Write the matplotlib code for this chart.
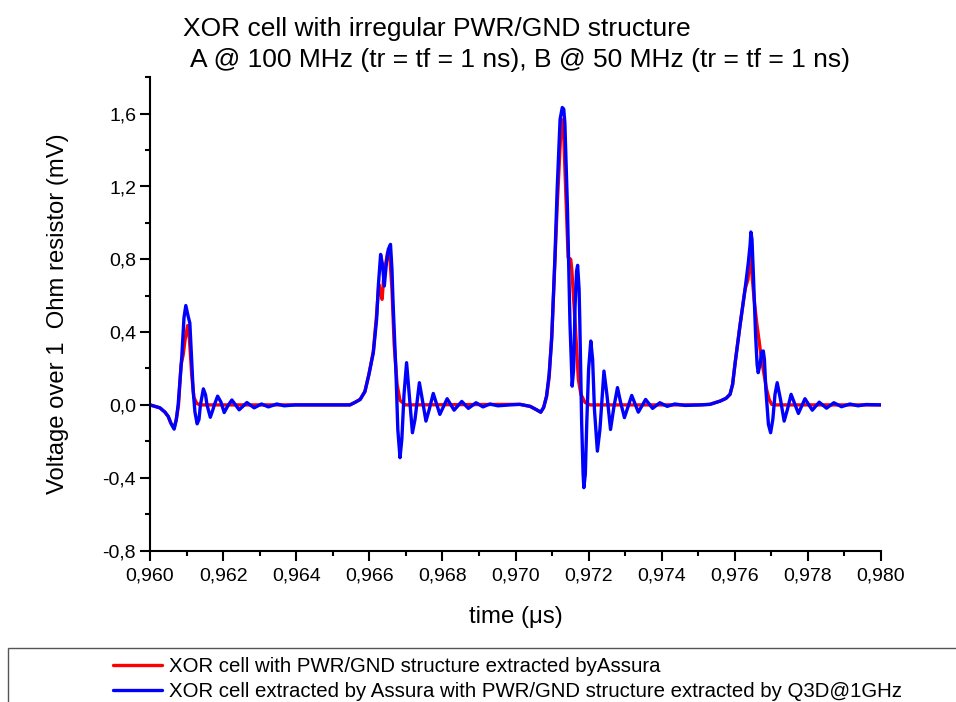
import matplotlib
matplotlib.use("Agg")
import matplotlib.pyplot as plt
from matplotlib.ticker import MultipleLocator, FuncFormatter
from matplotlib.patches import Rectangle

plt.rcParams["font.family"] = ["Liberation Sans", "DejaVu Sans"]
plt.rcParams["axes.unicode_minus"] = False

# Time (us) and voltage (mV) samples, PWR/GND structure extracted by Assura
t_assura = [
    0.96000, 0.96027, 0.96041, 0.96050, 0.96057, 0.96066, 0.96072, 0.96078,
    0.96085, 0.96091, 0.96096, 0.96103, 0.96108, 0.96114, 0.96120, 0.96128,
    0.96137, 0.96547,
    0.96561, 0.96575, 0.96588, 0.96599, 0.96611, 0.96620, 0.96626, 0.96629,
    0.96635, 0.96640, 0.96650, 0.96657, 0.96662, 0.96668, 0.96676, 0.96684,
    0.96698, 0.97012,
    0.97040, 0.97056, 0.97069, 0.97077, 0.97085, 0.97092, 0.97100, 0.97108,
    0.97114, 0.97123, 0.97129, 0.97132, 0.97135, 0.97144, 0.97151, 0.97154,
    0.97163, 0.97172, 0.97179, 0.97190, 0.97204, 0.97505,
    0.97532, 0.97560, 0.97576, 0.97587, 0.97594, 0.97601, 0.97614, 0.97628,
    0.97636, 0.97642, 0.97647, 0.97653, 0.97660, 0.97666, 0.97673, 0.97680,
    0.97687, 0.97694, 0.97701, 0.97710, 0.98000,
]
v_assura = [
    0.000, -0.016, -0.040, -0.064, -0.100, -0.128, -0.080, 0.000,
    0.220, 0.278, 0.360, 0.436, 0.360, 0.168, 0.041, 0.008,
    0.000, 0.000,
    0.014, 0.030, 0.074, 0.168, 0.294, 0.497, 0.662, 0.635,
    0.580, 0.718, 0.838, 0.789, 0.635, 0.333, 0.113, 0.025,
    0.000, 0.003,
    -0.008, -0.025, -0.040, -0.014, 0.047, 0.150, 0.410, 0.797,
    1.090, 1.460, 1.567, 1.485, 1.310, 0.810, 0.800, 0.745,
    0.454, 0.140, 0.058, 0.014, 0.000, 0.000,
    0.003, 0.021, 0.036, 0.058, 0.113, 0.232, 0.433, 0.635,
    0.690, 0.834, 0.715, 0.577, 0.449, 0.360, 0.250, 0.168,
    0.085, 0.030, 0.003, 0.000, 0.000,
]

# Time (us) and voltage (mV) samples, PWR/GND structure extracted by Q3D@1GHz
t_q3d = [
    0.96000, 0.96027, 0.96041, 0.96050, 0.96057, 0.96066, 0.96072, 0.96077,
    0.96087, 0.96093, 0.96098, 0.96104, 0.96109, 0.96114, 0.96118, 0.96123,
    0.96129, 0.96134, 0.96138, 0.96146, 0.96152, 0.96156, 0.96165, 0.96172,
    0.96176, 0.96185, 0.96194, 0.96203, 0.96213, 0.96224, 0.96244, 0.96265,
    0.96285, 0.96305, 0.96324, 0.96347, 0.96367, 0.96397, 0.96547,
    0.96561, 0.96575, 0.96588, 0.96599, 0.96611, 0.96620, 0.96625, 0.96631,
    0.96636, 0.96641, 0.96647, 0.96652, 0.96658, 0.96662, 0.96665, 0.96673,
    0.96678, 0.96684, 0.96689, 0.96695, 0.96702, 0.96708, 0.96718, 0.96725,
    0.96737, 0.96745, 0.96755, 0.96764, 0.96775, 0.96793, 0.96813, 0.96832,
    0.96853, 0.96871, 0.96892, 0.96911, 0.96930, 0.96952, 0.96985, 0.97012,
    0.97040, 0.97056, 0.97069, 0.97077, 0.97085, 0.97092, 0.97099, 0.97108,
    0.97114, 0.97122, 0.97128, 0.97132, 0.97135, 0.97142, 0.97149, 0.97155,
    0.97159, 0.97163, 0.97167, 0.97170, 0.97174, 0.97176, 0.97181, 0.97185,
    0.97187, 0.97191, 0.97195, 0.97200, 0.97206, 0.97211, 0.97216, 0.97224,
    0.97231, 0.97242, 0.97250, 0.97260, 0.97269, 0.97279, 0.97287, 0.97298,
    0.97318, 0.97336, 0.97356, 0.97375, 0.97395, 0.97415, 0.97436, 0.97464,
    0.97505,
    0.97532, 0.97560, 0.97576, 0.97587, 0.97594, 0.97601, 0.97614, 0.97628,
    0.97637, 0.97642, 0.97644, 0.97647, 0.97651, 0.97657, 0.97661, 0.97664,
    0.97669, 0.97674, 0.97678, 0.97681, 0.97685, 0.97692, 0.97698, 0.97704,
    0.97710, 0.97716, 0.97725, 0.97735, 0.97744, 0.97754, 0.97774, 0.97792,
    0.97812, 0.97831, 0.97851, 0.97871, 0.97892, 0.97915, 0.97937, 0.97959,
    0.98000,
]
v_q3d = [
    0.000, -0.016, -0.040, -0.064, -0.100, -0.133, -0.080, 0.000,
    0.265, 0.480, 0.546, 0.490, 0.450, 0.250, 0.082, -0.040,
    -0.104, -0.080, 0.000, 0.088, 0.055, 0.000, -0.068, -0.027,
    0.000, 0.048, 0.016, -0.042, -0.005, 0.027, -0.027, 0.013,
    -0.016, 0.005, -0.011, 0.005, -0.005, 0.000, 0.000,
    0.014, 0.030, 0.073, 0.168, 0.287, 0.470, 0.662, 0.827,
    0.772, 0.653, 0.782, 0.855, 0.882, 0.745, 0.562, 0.177,
    -0.135, -0.290, -0.190, 0.058, 0.232, 0.085, -0.153, -0.080,
    0.122, 0.030, -0.089, -0.025, 0.063, -0.052, 0.034, -0.029,
    0.019, -0.019, 0.012, -0.011, 0.005, -0.005, 0.000, 0.003,
    -0.008, -0.025, -0.040, -0.014, 0.048, 0.168, 0.360, 0.818,
    1.185, 1.570, 1.634, 1.625, 1.551, 1.093, 0.452, 0.103,
    0.195, 0.543, 0.734, 0.767, 0.635, 0.452, -0.098, -0.382,
    -0.455, -0.382, -0.098, 0.195, 0.351, 0.250, -0.025, -0.254,
    -0.135, 0.186, 0.058, -0.135, -0.014, 0.095, 0.019, -0.070,
    0.052, -0.040, 0.030, -0.019, 0.012, -0.008, 0.005, -0.003,
    0.000,
    0.003, 0.021, 0.036, 0.058, 0.113, 0.232, 0.433, 0.635,
    0.782, 0.882, 0.950, 0.910, 0.708, 0.378, 0.223, 0.177,
    0.223, 0.294, 0.296, 0.250, 0.085, -0.107, -0.153, -0.080,
    0.058, 0.122, 0.030, -0.089, -0.025, 0.058, -0.047, 0.034,
    -0.029, 0.015, -0.018, 0.012, -0.010, 0.005, -0.005, 0.002,
    0.000,
]

label_assura = "XOR cell with PWR/GND structure extracted byAssura"
label_q3d = "XOR cell extracted by Assura with PWR/GND structure extracted by Q3D@1GHz"
title_1 = "XOR cell with irregular PWR/GND structure"
title_2 = "A @ 100 MHz (tr = tf = 1 ns), B @ 50 MHz (tr = tf = 1 ns)"

W, H = 956, 702
fig = plt.figure(figsize=(W / 100, H / 100), dpi=100)
ax = fig.add_axes([150 / W, 1 - 550.5 / H, 731 / W, 473.2 / H])

line_a, = ax.plot(t_assura, v_assura, color="#ff0000", lw=2.4,
                  solid_joinstyle="round", solid_capstyle="round")
line_q, = ax.plot(t_q3d, v_q3d, color="#0000ff", lw=2.4,
                  solid_joinstyle="round", solid_capstyle="round")

ax.set_xlim(0.960, 0.980)
ax.set_ylim(-0.8, 1.8)

ax.xaxis.set_major_locator(MultipleLocator(0.002))
ax.xaxis.set_minor_locator(MultipleLocator(0.001))
ax.yaxis.set_major_locator(MultipleLocator(0.4))
ax.yaxis.set_minor_locator(MultipleLocator(0.2))


def comma_fmt(decimals):
    def fmt(v, pos):
        s = f"{v:.{decimals}f}"
        if s.startswith("-") and float(s) == 0:
            s = s[1:]
        return s.replace(".", ",")
    return FuncFormatter(fmt)


ax.xaxis.set_major_formatter(comma_fmt(3))
ax.yaxis.set_major_formatter(comma_fmt(1))

for side in ("top", "right"):
    ax.spines[side].set_visible(False)
for side in ("left", "bottom"):
    ax.spines[side].set_linewidth(1.5)

ax.tick_params(which="major", direction="out", length=7, width=1.5,
               labelsize=14, colors="black")
ax.tick_params(axis="y", which="major", pad=3)
ax.tick_params(axis="x", which="major", pad=5)
ax.tick_params(which="minor", direction="out", length=3.5, width=1.5)

ax.set_xlabel("time (μs)", fontsize=17.3, labelpad=16)
ax.set_ylabel("Voltage over 1  Ohm resistor (mV)", fontsize=17.2, labelpad=24)

fig.text(183 / W, 1 - 36 / H, title_1, fontsize=19, ha="left", va="baseline")
fig.text(190 / W, 1 - 67 / H, title_2, fontsize=19, ha="left", va="baseline")

# Legend area frame along the bottom of the figure
fig.add_artist(Rectangle((8 / W, -0.1), 1.2, 0.1 + (H - 648) / H,
                         transform=fig.transFigure, fill=False,
                         edgecolor="#555555", lw=1.0))
fig.legend([line_a, line_q], [label_assura, label_q3d],
           loc="upper left", bbox_to_anchor=(113 / W, 1 - 657 / H),
           frameon=False, fontsize=14.7, handlelength=2.4,
           handletextpad=0.35, labelspacing=0.3, borderpad=0,
           borderaxespad=0)

fig.savefig("out.png", dpi=100)
